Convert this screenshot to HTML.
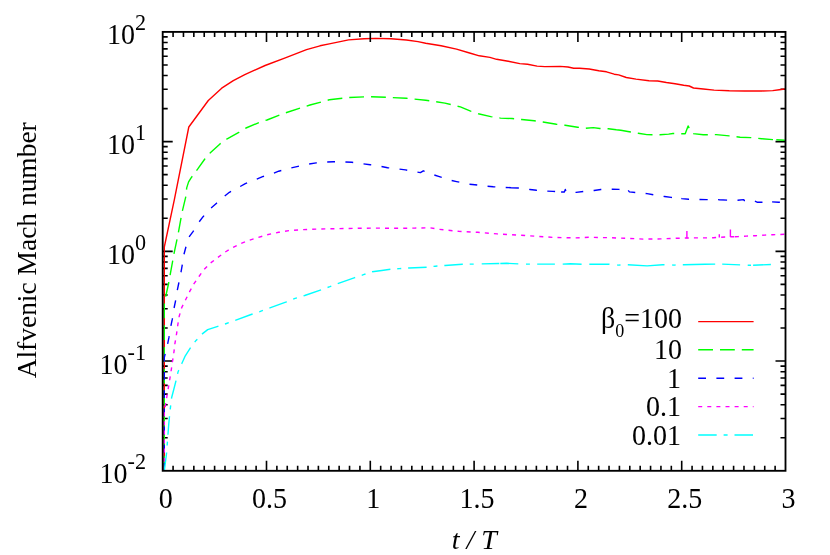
<!DOCTYPE html>
<html><head><meta charset="utf-8"><title>Alfvenic Mach number</title>
<style>
html,body{margin:0;padding:0;background:#fff;}
body{width:830px;height:555px;overflow:hidden;}
svg{display:block;will-change:transform;}
text{font-family:"Liberation Serif",serif;fill:#000;}
</style></head><body>
<svg width="830" height="555" viewBox="0 0 830 555" font-size="28">
<rect width="830" height="555" fill="#fff"/>
<path d="M173.08 470.8v-5M183.46 470.8v-5M193.84 470.8v-5M204.22 470.8v-5M214.60 470.8v-5M224.98 470.8v-5M235.36 470.8v-5M245.74 470.8v-5M256.12 470.8v-5M266.50 470.8v-10M276.88 470.8v-5M287.26 470.8v-5M297.64 470.8v-5M308.02 470.8v-5M318.40 470.8v-5M328.78 470.8v-5M339.16 470.8v-5M349.54 470.8v-5M359.92 470.8v-5M370.30 470.8v-10M380.68 470.8v-5M391.06 470.8v-5M401.44 470.8v-5M411.82 470.8v-5M422.20 470.8v-5M432.58 470.8v-5M442.96 470.8v-5M453.34 470.8v-5M463.72 470.8v-5M474.10 470.8v-10M484.48 470.8v-5M494.86 470.8v-5M505.24 470.8v-5M515.62 470.8v-5M526.00 470.8v-5M536.38 470.8v-5M546.76 470.8v-5M557.14 470.8v-5M567.52 470.8v-5M577.90 470.8v-10M588.28 470.8v-5M598.66 470.8v-5M609.04 470.8v-5M619.42 470.8v-5M629.80 470.8v-5M640.18 470.8v-5M650.56 470.8v-5M660.94 470.8v-5M671.32 470.8v-5M681.70 470.8v-10M692.08 470.8v-5M702.46 470.8v-5M712.84 470.8v-5M723.22 470.8v-5M733.60 470.8v-5M743.98 470.8v-5M754.36 470.8v-5M764.74 470.8v-5M775.12 470.8v-5M162.7 437.77h5M785.5 437.77h-5M162.7 418.45h5M785.5 418.45h-5M162.7 404.74h5M785.5 404.74h-5M162.7 394.11h5M785.5 394.11h-5M162.7 385.42h5M785.5 385.42h-5M162.7 378.07h5M785.5 378.07h-5M162.7 371.71h5M785.5 371.71h-5M162.7 366.10h5M785.5 366.10h-5M162.7 361.07h10M785.5 361.07h-10M162.7 328.04h5M785.5 328.04h-5M162.7 308.72h5M785.5 308.72h-5M162.7 295.01h5M785.5 295.01h-5M162.7 284.38h5M785.5 284.38h-5M162.7 275.69h5M785.5 275.69h-5M162.7 268.35h5M785.5 268.35h-5M162.7 261.98h5M785.5 261.98h-5M162.7 256.37h5M785.5 256.37h-5M162.7 251.35h10M785.5 251.35h-10M162.7 218.32h5M785.5 218.32h-5M162.7 199.00h5M785.5 199.00h-5M162.7 185.29h5M785.5 185.29h-5M162.7 174.66h5M785.5 174.66h-5M162.7 165.97h5M785.5 165.97h-5M162.7 158.62h5M785.5 158.62h-5M162.7 152.26h5M785.5 152.26h-5M162.7 146.65h5M785.5 146.65h-5M162.7 141.62h10M785.5 141.62h-10M162.7 108.59h5M785.5 108.59h-5M162.7 89.27h5M785.5 89.27h-5M162.7 75.56h5M785.5 75.56h-5M162.7 64.93h5M785.5 64.93h-5M162.7 56.24h5M785.5 56.24h-5M162.7 48.90h5M785.5 48.90h-5M162.7 42.53h5M785.5 42.53h-5M162.7 36.92h5M785.5 36.92h-5" stroke="#000" stroke-width="1.6" fill="none"/>
<g fill="none" stroke-width="1.4" stroke-linejoin="round">
<path d="M164.3 470.8L164.3 247.0L174.3 199.9L188.8 127.0L208.3 100.5L221.7 88.2L233.3 80.6L244.8 74.6L265.1 65.5L285.3 57.8L306.5 49.7L320.0 45.8L329.3 43.9L348.6 39.9L364.0 38.7L375.5 38.4L391.0 38.8L406.4 40.0L418.0 41.6L425.7 43.3L441.1 45.8L456.5 49.1L469.6 53.0L479.3 55.8L489.9 57.4L496.6 59.3L508.2 61.2L519.8 63.6L527.5 64.3L537.1 66.1L544.8 66.6L560.2 66.4L568.0 67.0L573.7 68.2L579.5 68.2L589.2 69.0L598.8 70.7L606.5 71.8L614.2 74.2L618.7 74.9L626.3 77.5L636.0 79.1L649.0 80.8L657.7 81.0L666.4 82.5L675.1 83.8L683.7 85.3L689.2 86.0L693.5 88.0L703.3 89.0L714.1 90.1L729.3 90.8L744.5 91.0L761.8 91.0L772.7 90.6L779.2 89.7L784.8 89.0" stroke="#ff0000"/>
<path d="M164.3 470.8L164.3 302.5L165.8 296.0L168.7 283.0L170.1 275.1L172.7 260.8L174.0 253.6L176.9 239.8L178.4 232.6L181.0 218.1L182.4 210.9L185.7 197.2L186.7 187.9L188.6 181.9L191.1 177.8L197.6 169.2L204.8 159.0L210.6 152.5L220.0 143.9L227.2 138.8L238.8 132.3L246.0 128.0L259.8 122.2L267.0 120.0L285.0 113.0L310.0 105.0L329.3 99.8L348.6 97.5L367.8 96.7L387.1 97.3L406.4 98.3L425.7 100.2L444.9 103.1L460.4 106.9L470.6 111.2L478.3 113.7L490.8 116.6L500.5 118.1L512.0 118.5L521.7 119.5L534.2 120.8L542.9 122.0L556.4 124.3L565.1 125.2L577.6 127.2L585.6 128.3L593.3 127.6L599.8 128.5L608.4 128.7L616.3 129.7M616.3 129.7L620.8 130.2L630.6 132.0L638.2 133.3L646.9 134.6L659.9 134.8L668.6 134.1L672.9 133.5L681.6 133.7L685.2 133.8L688.1 125.9L689.5 128.8L692.4 133.5L693.1 133.6M693.1 133.6L703.3 134.8L716.3 134.6L729.3 135.9L740.1 137.2L751.0 137.6L761.8 138.7L772.7 139.6L776.3 139.8M776.3 139.8L784.8 140.2" stroke="#00ff00" stroke-dasharray="14.8 7"/>
<path d="M164.3 470.8L164.3 357.5L167.5 344.5L169.0 337.2L170.8 326.4L172.3 319.2L174.0 308.3L175.5 301.1L177.3 290.2L178.8 283.0L181.0 272.2L182.1 265.8L183.9 254.6L185.7 247.8L188.6 237.6L193.0 231.6L198.7 222.5L203.1 216.7L210.3 208.7L215.7 204.0L224.3 196.3L229.4 192.3L240.2 186.5L245.3 183.6L256.1 179.3L262.6 176.7L272.9 173.5L278.7 171.2L291.2 167.9L298.0 166.4L308.6 164.1L316.3 162.9L326.9 162.0L333.6 161.8L345.2 162.0L351.9 162.3L362.5 163.7L370.2 164.7L380.8 166.4L387.6 167.7L398.2 168.9L405.5 169.9L416.5 172.0L420.4 172.6L423.3 170.8L433.5 174.7L439.3 176.6L450.8 180.3L456.6 181.6L468.2 184.1L474.9 184.7L486.5 186.2L493.3 186.8L504.8 187.4L511.1 187.7M511.1 187.7L518.3 188.0L529.9 189.5L536.6 190.3L547.2 191.1L553.0 191.4L561.1 192.0M561.1 192.0L561.1 192.0L564.4 192.0L565.3 189.4L566.2 192.1L576.1 192.4L583.5 191.4L594.1 190.5L600.8 189.5L612.4 189.3L619.2 189.4L628.2 190.4M628.2 190.4L628.2 190.4L629.4 191.9L639.0 192.8L647.1 193.6L653.9 194.9L664.3 196.5M664.3 196.5L664.5 196.5L671.2 197.4L681.3 198.5M681.3 198.5L681.8 198.6L688.6 199.3L699.9 199.5M699.9 199.5L699.9 199.5L706.5 199.6L716.4 199.5L719.3 199.7M719.3 199.7L727.1 200.1L737.7 200.3M737.7 200.3L737.7 200.3L743.6 199.6L744.3 200.5L754.9 201.2M754.9 201.2L754.9 201.2L757.5 202.3L761.5 202.3L772.1 201.9M772.1 201.9L772.1 201.9L778.7 202.3L784.8 202.4" stroke="#0000ff" stroke-dasharray="7.8 10.4"/>
<path d="M164.3 470.8L164.3 411.5L165.5 405.0L166.9 396.3L168.4 387.6L169.8 379.0L171.3 369.6L172.7 360.2L174.0 351.5L174.9 343.7L176.6 333.6L177.8 324.9L179.2 316.3L181.7 307.6L185.3 300.4L189.6 291.7L194.0 283.7L199.0 276.5L203.4 270.2L210.6 262.9L217.8 257.5L225.1 252.1L232.3 247.8L241.0 243.4L249.6 240.1L258.3 237.4L267.0 234.8L278.7 232.3L289.3 230.6L302.8 229.6L318.2 229.0L337.5 228.7L356.7 228.3L376.0 228.1L395.3 228.3L414.6 228.1L430.0 227.8L439.3 229.4L458.6 231.3L477.8 232.3L497.1 233.9L516.4 235.0L535.7 236.2L554.9 237.5L574.2 237.9L589.3 237.3L608.6 237.7L627.8 238.3L643.3 239.1L660.6 238.9L676.0 238.3L686.9 238.0L693.3 237.9L706.5 237.9L713.1 237.8L719.2 237.3L725.1 237.0L730.3 236.8L734.9 236.7M734.9 236.7L738.3 236.6L746.3 236.1L755.5 235.7L764.8 235.1L772.8 234.7L784.8 234.3" stroke="#ff00ff" stroke-dasharray="4 5.1"/>
<path d="M164.3 470.8L166.6 453.0L167.4 442.0L168.7 424.9L169.4 417.3L170.4 407.9L171.6 397.8L173.7 389.8L175.9 381.1L178.1 371.7L181.7 363.8L185.3 355.8L190.4 347.9L196.1 340.4L202.6 333.6L207.7 329.6L217.8 326.4L226.5 323.5L235.9 320.2L251.1 314.5L259.8 311.6L269.9 307.9L286.4 301.9L295.1 298.4L304.7 295.5L321.1 289.8L329.8 286.7L338.4 283.4L354.8 277.6L363.5 274.7L372.2 271.8L381.8 270.5L390.5 269.3L399.2 268.6L408.8 268.0L426.7 267.2L435.4 266.2L445.1 265.5L462.4 264.3L472.0 264.1L474.2 264.1" stroke="#00ffff" stroke-dasharray="18.5 6.9 4 6.9"/>
<path d="M481.7 263.9L481.7 263.9L499.0 263.5L499.3 263.5M500.3 263.5L506.7 263.3L518.3 263.9M526.0 264.1L527.9 264.1L529.9 264.1M537.2 264.1L537.6 264.1L554.9 264.1M562.7 264.1L562.7 264.1L570.4 263.8L581.6 264.3M589.3 264.3L589.3 264.3L608.6 264.1L609.5 264.2M617.2 265.0L618.2 265.1L620.5 265.0M627.8 264.7L627.8 264.7L647.1 265.9L662.5 264.7L664.5 264.8M672.2 265.0L674.1 265.1L675.6 265.0M682.8 264.7L683.7 264.7L704.9 264.3L715.2 264.1M722.2 264.1L722.2 264.1L740.1 264.9M747.7 265.2L747.7 265.2L751.0 265.2M753.1 265.2L753.1 265.2L770.9 264.5" stroke="#00ffff"/>
<path d="M686.9 238.2L686.9 231.0M719.3 237.5L719.3 234.3M730.4 237.0L730.4 229.5" stroke="#ff00ff"/>
<path d="M698.2 321.6H753.6" stroke="#ff0000"/>
<path d="M698.2 349.8H753.6" stroke="#00ff00" stroke-dasharray="14.8 7"/>
<text transform="translate(682 359.3) scale(0.95 1)" font-size="29.5" text-anchor="end">10</text>
<path d="M698.2 378.3H753.6" stroke="#0000ff" stroke-dasharray="7.8 10.4"/>
<text transform="translate(681 387.8) scale(0.95 1)" font-size="29.5" text-anchor="end">1</text>
<path d="M698.2 406.6H753.6" stroke="#ff00ff" stroke-dasharray="4 5.1"/>
<text transform="translate(681 416.1) scale(0.95 1)" font-size="29.5" text-anchor="end">0.1</text>
<path d="M698.2 435.0H753.6" stroke="#00ffff" stroke-dasharray="18.5 6.9 4 6.9"/>
<text transform="translate(681 444.5) scale(0.95 1)" font-size="29.5" text-anchor="end">0.01</text>
</g>
<path d="M173.08 31.9v5M183.46 31.9v5M193.84 31.9v5M204.22 31.9v5M214.60 31.9v5M224.98 31.9v5M235.36 31.9v5M245.74 31.9v5M256.12 31.9v5M266.50 31.9v10M276.88 31.9v5M287.26 31.9v5M297.64 31.9v5M308.02 31.9v5M318.40 31.9v5M328.78 31.9v5M339.16 31.9v5M349.54 31.9v5M359.92 31.9v5M370.30 31.9v10M380.68 31.9v5M391.06 31.9v5M401.44 31.9v5M411.82 31.9v5M422.20 31.9v5M432.58 31.9v5M442.96 31.9v5M453.34 31.9v5M463.72 31.9v5M474.10 31.9v10M484.48 31.9v5M494.86 31.9v5M505.24 31.9v5M515.62 31.9v5M526.00 31.9v5M536.38 31.9v5M546.76 31.9v5M557.14 31.9v5M567.52 31.9v5M577.90 31.9v10M588.28 31.9v5M598.66 31.9v5M609.04 31.9v5M619.42 31.9v5M629.80 31.9v5M640.18 31.9v5M650.56 31.9v5M660.94 31.9v5M671.32 31.9v5M681.70 31.9v10M692.08 31.9v5M702.46 31.9v5M712.84 31.9v5M723.22 31.9v5M733.60 31.9v5M743.98 31.9v5M754.36 31.9v5M764.74 31.9v5M775.12 31.9v5" stroke="#000" stroke-width="1.6" fill="none"/>
<rect x="162.7" y="31.9" width="622.8" height="438.9" fill="none" stroke="#000" stroke-width="1.85"/>
<text transform="translate(146 44.3) scale(0.95 1)" font-size="29.5" text-anchor="end">10<tspan dy="-14" font-size="23.3">2</tspan></text>
<text transform="translate(146 154.0) scale(0.95 1)" font-size="29.5" text-anchor="end">10<tspan dy="-14" font-size="23.3">1</tspan></text>
<text transform="translate(146 263.8) scale(0.95 1)" font-size="29.5" text-anchor="end">10<tspan dy="-14" font-size="23.3">0</tspan></text>
<text transform="translate(146 373.5) scale(0.95 1)" font-size="29.5" text-anchor="end">10<tspan dy="-14" font-size="23.3">-1</tspan></text>
<text transform="translate(146 483.2) scale(0.95 1)" font-size="29.5" text-anchor="end">10<tspan dy="-14" font-size="23.3">-2</tspan></text>
<text transform="translate(165.7 508.3) scale(0.95 1)" font-size="29.5" text-anchor="middle">0</text>
<text transform="translate(269.5 508.3) scale(0.95 1)" font-size="29.5" text-anchor="middle">0.5</text>
<text transform="translate(373.3 508.3) scale(0.95 1)" font-size="29.5" text-anchor="middle">1</text>
<text transform="translate(477.1 508.3) scale(0.95 1)" font-size="29.5" text-anchor="middle">1.5</text>
<text transform="translate(580.9 508.3) scale(0.95 1)" font-size="29.5" text-anchor="middle">2</text>
<text transform="translate(684.7 508.3) scale(0.95 1)" font-size="29.5" text-anchor="middle">2.5</text>
<text transform="translate(788.5 508.3) scale(0.95 1)" font-size="29.5" text-anchor="middle">3</text>
<text transform="translate(682 328) scale(0.95 1)" font-size="29.5" text-anchor="end">&#946;<tspan dy="8.6" font-size="19">0</tspan><tspan dy="-8.6">=100</tspan></text>
<text transform="translate(36 250.3) rotate(-90) scale(0.981 1)" text-anchor="middle">Alfvenic Mach number</text>
<text x="474.2" y="548.9" text-anchor="middle" font-style="italic">t / T</text>
</svg>
</body></html>
